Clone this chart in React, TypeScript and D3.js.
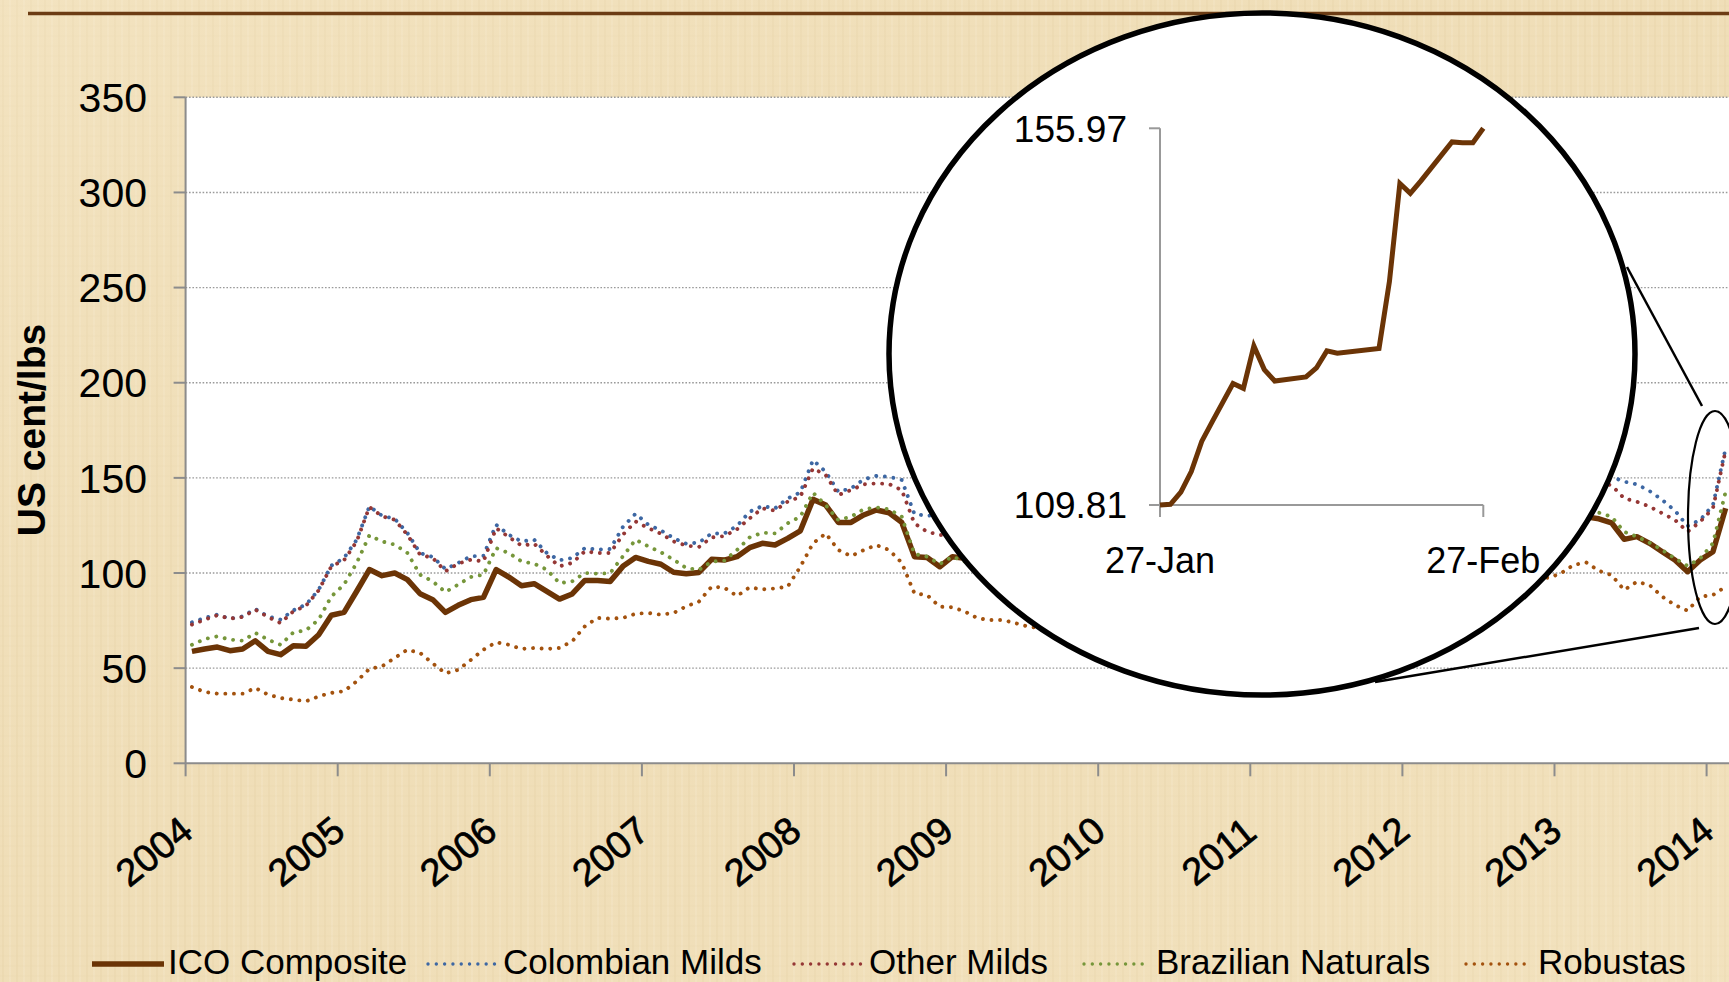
import React from 'react';
import * as d3 from 'd3';

// ---------- DATA ----------
const yearLabels = ['2004', '2005', '2006', '2007', '2008', '2009', '2010', '2011', '2012', '2013', '2014'];
const yTicks = [0, 50, 100, 150, 200, 250, 300, 350];

// monthly values, Jan 2004 .. Feb 2014 (US cents/lb)
const icoComposite = [
  58.8, 60.1, 61.1, 59.2, 60.1, 64.4, 58.8, 57.1, 61.8, 61.5, 67.6, 77.8,
  79.3, 90.4, 101.8, 98.6, 100.0, 96.5, 89.1, 86.0, 79.3, 83.0, 86.0, 87.2,
  101.8, 97.9, 93.3, 94.4, 90.4, 86.3, 89.0, 96.1, 96.1, 95.6, 103.5, 108.2,
  106.1, 104.6, 100.4, 99.6, 100.3, 107.2, 106.8, 108.6, 113.3, 115.6, 114.7, 118.2,
  122.2, 138.7, 135.7, 126.6, 126.6, 130.5, 133.1, 131.7, 126.6, 108.6, 108.1, 103.3,
  108.6, 107.7, 105.0, 112.6, 126.0, 119.7, 116.2, 119.2, 118.9, 123.3, 120.8, 127.2,
  126.8, 123.5, 128.2, 128.4, 132.5, 147.6, 163.5, 163.6, 165.3, 165.7, 171.1, 180.9,
  197.4, 216.0, 224.3, 231.2, 228.0, 211.2, 208.8, 212.8, 218.6, 193.4, 193.1, 189.3,
  188.9, 180.4, 167.8, 160.5, 157.7, 145.3, 159.1, 148.5, 151.3, 147.1, 137.0, 135.4,
  134.7, 130.8, 129.5, 128.5, 126.4, 117.7, 119.1, 115.6, 111.2, 106.8, 100.7, 106.8,
  111.2, 134.0,
];
const colombianMilds = [
  74.1, 76.4, 78.1, 76.0, 77.2, 81.1, 77.2, 75.5, 80.4, 83.4, 91.2, 103.9,
  107.9, 117.5, 135.0, 130.1, 128.5, 121.0, 110.5, 108.4, 102.1, 105.3, 108.8, 109.1,
  125.4, 120.1, 116.6, 117.5, 110.5, 106.7, 107.9, 113.1, 112.3, 112.6, 124.2, 131.2,
  125.4, 122.4, 118.4, 115.4, 116.0, 120.8, 120.8, 124.7, 132.2, 135.2, 134.0, 139.2,
  142.4, 159.4, 153.2, 142.7, 144.5, 149.2, 151.0, 150.6, 148.9, 131.0, 130.1, 130.5,
  142, 140, 145, 158, 178, 176, 178, 185, 188, 198, 197, 210,
  210, 205, 208, 210, 212, 225, 235, 232, 238, 240, 248, 262,
  285, 305, 305, 310, 300, 285, 275, 280, 285, 260, 255, 255,
  250, 235, 215, 205, 195, 180, 195, 180, 185, 180, 168, 165,
  160, 155, 152, 151, 150.6, 148.0, 146.6, 143.1, 138.4, 132.8, 124.7, 127.9,
  135.7, 165.5,
];
const otherMilds = [
  72.9, 75.5, 77.8, 76.0, 76.9, 80.7, 76.9, 73.7, 79.9, 82.8, 90.9, 103.5,
  106.7, 116.6, 134.7, 129.8, 128.0, 120.1, 109.6, 107.9, 100.9, 104.9, 107.0, 106.1,
  123.6, 118.9, 114.4, 115.4, 109.1, 103.5, 105.3, 111.4, 110.5, 110.5, 120.1, 127.1,
  123.6, 120.7, 116.6, 114.4, 113.7, 118.7, 119.4, 123.0, 128.7, 134.0, 132.8, 137.5,
  140.1, 155.0, 151.5, 141.0, 143.6, 146.6, 147.1, 146.8, 143.6, 126.1, 121.7, 120.0,
  120, 119, 118, 128, 148, 145, 143, 148, 150, 158, 158, 168,
  170, 168, 172, 175, 178, 195, 210, 208, 212, 215, 222, 240,
  262, 280, 290, 295, 290, 270, 262, 265, 270, 245, 245, 240,
  235, 220, 200, 192, 185, 168, 185, 172, 176, 172, 162, 158,
  155, 150, 148, 147, 146.2, 139.2, 137.5, 134.9, 131.4, 127.9, 121.7, 127.0,
  134.0, 164.4,
];
const brazilianNaturals = [
  62.3, 65.3, 66.7, 65.0, 64.4, 68.5, 65.0, 62.3, 68.8, 69.9, 75.5, 87.7,
  93.9, 105.3, 119.8, 116.6, 114.9, 110.5, 99.1, 95.6, 90.0, 93.9, 97.9, 99.1,
  113.1, 110.5, 106.1, 104.9, 101.8, 94.7, 95.6, 100.0, 99.6, 100.0, 108.8, 117.5,
  114.0, 110.9, 107.0, 102.6, 101.7, 106.0, 106.5, 112.1, 118.7, 121.2, 120.8, 126.1,
  129.6, 142.2, 135.7, 127.8, 129.6, 133.5, 134.5, 133.5, 129.6, 110.0, 108.6, 104.7,
  108.6, 106, 104, 110, 122, 116, 112, 114, 113, 118, 117, 123,
  125, 123, 128, 130, 135, 155, 172, 170, 172, 175, 185, 200,
  225, 250, 258, 268, 265, 245, 240, 250, 258, 232, 230, 225,
  222, 208, 190, 180, 178, 160, 175, 162, 166, 160, 148, 145,
  143, 138, 135, 131.7, 129.6, 121.7, 119.1, 115.9, 112.1, 107.7, 103.7, 107.7,
  115.6, 142.7,
];
const robustas = [
  40.1, 37.5, 36.6, 36.6, 36.6, 39.6, 36.1, 34.3, 33.5, 32.6, 35.2, 37.0,
  37.9, 43.1, 49.6, 51.0, 55.4, 59.7, 58.0, 52.5, 47.3, 49.1, 54.3, 59.7,
  63.6, 62.3, 60.1, 60.6, 60.1, 60.6, 64.1, 72.0, 76.4, 76.0, 76.4, 78.6,
  79.0, 78.1, 79.0, 82.5, 85.0, 92.8, 92.3, 87.9, 92.5, 91.4, 91.9, 92.8,
  103.3, 115.6, 120.8, 112.1, 108.9, 112.1, 114.7, 112.1, 105.4, 89.3, 88.4, 82.3,
  82.0, 79.7, 76.2, 75.3, 75.3, 73.6, 71.8, 71, 70, 70, 71, 71,
  72, 71, 70, 69, 70, 78, 85, 85, 82, 82, 84, 86,
  95, 104, 110, 115, 118, 113, 114, 112, 112, 105, 100, 95,
  98, 100, 104, 105, 103, 104, 105, 104, 108, 106, 99, 97.4,
  99.8, 104.2, 105.6, 101.2, 98.9, 91.1, 95.4, 93.7, 87.6, 83.2, 80.2, 87.6,
  88.4, 92.8,
];

// inset: ICO composite daily, 27 Jan - 27 Feb 2014
const insetDates = [
  '2014-01-27', '2014-01-28', '2014-01-29', '2014-01-30', '2014-01-31', '2014-02-01',
  '2014-02-03', '2014-02-04', '2014-02-05', '2014-02-06', '2014-02-07', '2014-02-10',
  '2014-02-11', '2014-02-12', '2014-02-13', '2014-02-17', '2014-02-18', '2014-02-19',
  '2014-02-20', '2014-02-21', '2014-02-24', '2014-02-25', '2014-02-26', '2014-02-27',
];
const insetValues = [
  109.81, 109.9, 111.4, 113.9, 117.6, 120.0,
  124.7, 124.1, 129.3, 126.4, 125.0, 125.5,
  126.6, 128.7, 128.4, 129.0, 137.2, 149.2,
  148.0, 149.5, 154.3, 154.2, 154.2, 155.97,
];
const insetYTicks = [109.81, 155.97];
const insetXTickLabels = ['27-Jan', '27-Feb'];

const seriesNames = ['ICO Composite', 'Colombian Milds', 'Other Milds', 'Brazilian Naturals', 'Robustas'];
const seriesValues = [icoComposite, colombianMilds, otherMilds, brazilianNaturals, robustas];
const seriesColors = ['#6b3406', '#3d67a3', '#953735', '#76963a', '#a3520e'];

// ---------- LAYOUT ----------
const W = 1729;
const H = 982;
const FONT = "'Liberation Sans', Arial, Helvetica, sans-serif";
const plotLeft = 185.6;
const plotTop = 97.3;
const plotBottom = 763.3;
const monthW = 12.675;

export default function App() {
  const nMonths = icoComposite.length;
  const x = d3
    .scaleBand<number>()
    .domain(d3.range(nMonths))
    .range([plotLeft, plotLeft + nMonths * monthW])
    .padding(0);
  const bw = x.bandwidth();
  const y = d3.scaleLinear().domain([0, 350]).range([plotBottom, plotTop]);

  const line = d3
    .line<number>()
    .x((_, i) => (x(i) as number) + bw / 2)
    .y((d) => y(d));

  const parse = d3.timeParse('%Y-%m-%d');
  const insetX = d3
    .scaleTime()
    .domain([parse(insetDates[0]) as Date, parse(insetDates[insetDates.length - 1]) as Date])
    .range([1160, 1483.3]);
  const insetY = d3.scaleLinear().domain([insetYTicks[0], insetYTicks[1]]).range([505, 128.3]);
  const insetLine = d3
    .line<number>()
    .x((_, i) => insetX(parse(insetDates[i]) as Date))
    .y((d) => insetY(d));

  const legendItems = [
    { x1: 92, x2: 164, tx: 168 },
    { x1: 428, x2: 496, tx: 503 },
    { x1: 794, x2: 864, tx: 869 },
    { x1: 1084, x2: 1150, tx: 1156 },
    { x1: 1466, x2: 1532, tx: 1538 },
  ];

  const drawOrder = [0, 1, 2, 3, 4];

  return (
    <div style={{ position: 'absolute', left: 0, top: 0, width: W, height: H, overflow: 'hidden' }}>
      <svg width={W} height={H} viewBox={`0 0 ${W} ${H}`} style={{ display: 'block' }}>
        <defs>
          <pattern id="weave" width="14" height="10" patternUnits="userSpaceOnUse">
            <rect width="14" height="10" fill="#f1e0bb" />
            <line x1="3" y1="0" x2="3" y2="10" stroke="#e2cc9c" strokeWidth="1" opacity="0.45" />
            <line x1="10" y1="0" x2="10" y2="10" stroke="#f7ead0" strokeWidth="1.5" opacity="0.5" />
            <line x1="0" y1="6" x2="14" y2="6" stroke="#e6d3a8" strokeWidth="1" opacity="0.3" />
          </pattern>
          <linearGradient id="shade" x1="0" y1="0" x2="1" y2="1">
            <stop offset="0" stopColor="#f6e8c8" stopOpacity="0.35" />
            <stop offset="0.5" stopColor="#e8d3a6" stopOpacity="0.15" />
            <stop offset="1" stopColor="#f5e6c4" stopOpacity="0.3" />
          </linearGradient>
        </defs>

        {/* background */}
        <rect x={0} y={0} width={W} height={H} fill="url(#weave)" />
        <rect x={0} y={0} width={W} height={H} fill="url(#shade)" />

        {/* top rule */}
        <line x1={28} y1={13.5} x2={W} y2={13.5} stroke="#6c3c14" strokeWidth={3.5} />

        {/* plot area */}
        <rect x={plotLeft} y={plotTop} width={W - plotLeft} height={plotBottom - plotTop} fill="#ffffff" />

        {/* gridlines */}
        {yTicks.filter((t) => t > 0).map((t) => (
          <line
            key={'g' + t}
            x1={plotLeft}
            x2={W}
            y1={y(t)}
            y2={y(t)}
            stroke="#9a9a9a"
            strokeWidth={1.4}
            strokeDasharray="1.6 1.8"
          />
        ))}

        {/* y axis */}
        <line x1={plotLeft} x2={plotLeft} y1={plotTop} y2={plotBottom} stroke="#8c8c8c" strokeWidth={2} />
        {yTicks.map((t) => (
          <g key={'yt' + t}>
            <line x1={plotLeft - 12} x2={plotLeft} y1={y(t)} y2={y(t)} stroke="#8c8c8c" strokeWidth={2} />
            <text
              x={147}
              y={y(t)}
              dy="0.36em"
              textAnchor="end"
              fontFamily={FONT}
              fontSize={41}
              fill="#000"
            >
              {t}
            </text>
          </g>
        ))}
        <text
          transform={`translate(45,430) rotate(-90)`}
          textAnchor="middle"
          fontFamily={FONT}
          fontSize={39}
          fontWeight="bold"
          fill="#000"
        >
          US cent/lbs
        </text>

        {/* x axis */}
        <line x1={plotLeft} x2={W} y1={plotBottom} y2={plotBottom} stroke="#8c8c8c" strokeWidth={2} />
        {yearLabels.map((lab, k) => {
          const tx = x(k * 12) as number;
          return (
            <g key={'xt' + lab}>
              <line x1={tx} x2={tx} y1={plotBottom} y2={plotBottom + 13} stroke="#8c8c8c" strokeWidth={2} />
              <text
                transform={`translate(${tx - 32},851) rotate(-39)`}
                textAnchor="middle"
                dy="0.36em"
                fontFamily={FONT}
                fontSize={38}
                fill="#000"
                stroke="#000"
                strokeWidth={0.7}
              >
                {lab}
              </text>
            </g>
          );
        })}

        {/* series */}
        {drawOrder.map((s) => (
          <path
            key={'s' + s}
            d={line(seriesValues[s]) || ''}
            fill="none"
            stroke={seriesColors[s]}
            strokeWidth={s === 0 ? 5.5 : 3.9}
            strokeLinejoin="round"
            strokeLinecap={s === 0 ? 'butt' : 'round'}
            strokeDasharray={s === 0 ? undefined : '0.01 8.6'}
          />
        ))}

        {/* legend */}
        {seriesNames.map((name, s) => {
          const it = legendItems[s];
          return (
            <g key={'lg' + s}>
              <line
                x1={it.x1}
                x2={it.x2}
                y1={964}
                y2={964}
                stroke={seriesColors[s]}
                strokeWidth={s === 0 ? 5.5 : 3.4}
                strokeLinecap={s === 0 ? 'butt' : 'round'}
                strokeDasharray={s === 0 ? undefined : '0.01 8.3'}
              />
              <text x={it.tx} y={974} fontFamily={FONT} fontSize={35} fill="#000">
                {name}
              </text>
            </g>
          );
        })}

        {/* magnifier */}
        <line x1={1627} y1={267} x2={1702} y2={406} stroke="#000" strokeWidth={2.5} />
        <line x1={1375} y1={682} x2={1699} y2={628} stroke="#000" strokeWidth={2.5} />
        <ellipse cx={1715} cy={517.5} rx={27} ry={106.5} fill="none" stroke="#000" strokeWidth={2.2} />
        <ellipse cx={1262} cy={354} rx={373} ry={341} fill="#ffffff" stroke="#000" strokeWidth={5.5} />

        {/* inset axes */}
        <line x1={1160} x2={1160} y1={insetY(insetYTicks[1])} y2={insetY(insetYTicks[0])} stroke="#999" strokeWidth={2} />
        <line x1={1160} x2={1483.3} y1={insetY(insetYTicks[0])} y2={insetY(insetYTicks[0])} stroke="#999" strokeWidth={2} />
        {insetYTicks.map((t) => (
          <g key={'iy' + t}>
            <line x1={1149} x2={1160} y1={insetY(t)} y2={insetY(t)} stroke="#999" strokeWidth={2} />
            <text
              x={1127}
              y={insetY(t)}
              dy="0.36em"
              textAnchor="end"
              fontFamily={FONT}
              fontSize={37}
              fill="#000"
            >
              {t.toFixed(2)}
            </text>
          </g>
        ))}
        {insetXTickLabels.map((lab, k) => {
          const tx = k === 0 ? insetX.range()[0] : insetX.range()[1];
          return (
            <g key={'ix' + lab}>
              <line x1={tx} x2={tx} y1={505} y2={517} stroke="#999" strokeWidth={2} />
              <text x={tx} y={573} textAnchor="middle" fontFamily={FONT} fontSize={36} fill="#000">
                {lab}
              </text>
            </g>
          );
        })}
        <path
          d={insetLine(insetValues) || ''}
          fill="none"
          stroke="#6b3406"
          strokeWidth={5}
          strokeLinejoin="miter"
        />
      </svg>
    </div>
  );
}
